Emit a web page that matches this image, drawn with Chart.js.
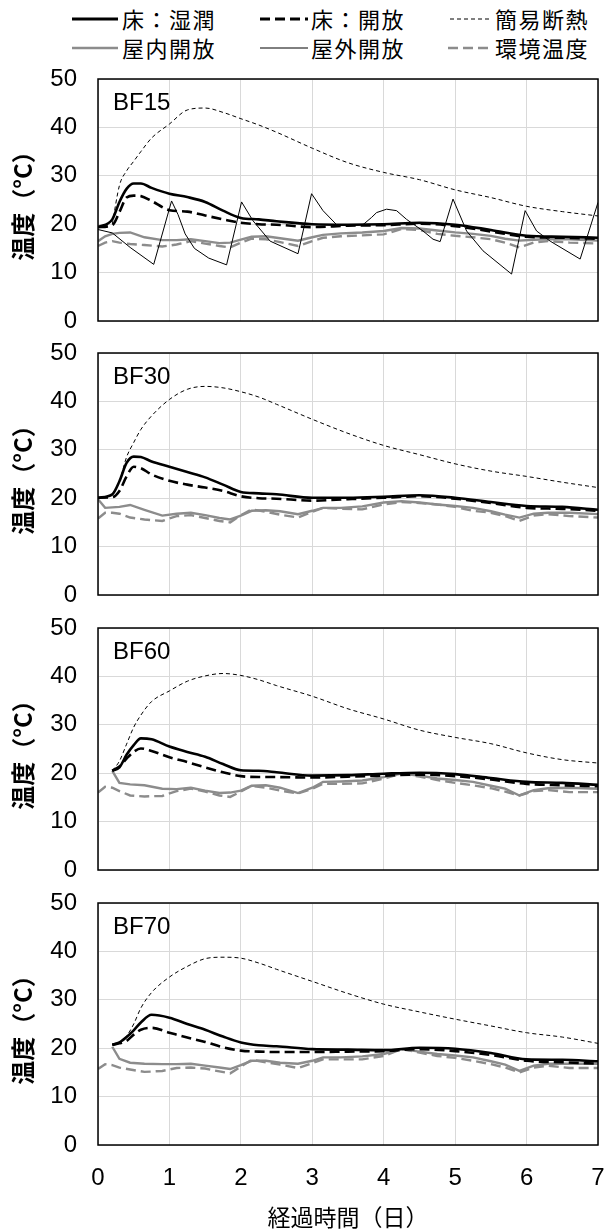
<!DOCTYPE html>
<html>
<head>
<meta charset="utf-8">
<script src="https://cdn.jsdelivr.net/npm/chart.js@4.4.1/dist/chart.umd.min.js"></script>
<style>
  body { margin: 0; background: #fff; width: 606px; height: 1230px; position: relative; overflow: hidden; }
  canvas { position: absolute; left: 0; }
  .lg { position: absolute; font-family: "Noto Sans CJK JP", sans-serif; font-size: 22px; letter-spacing: 1.5px; line-height: 28px; color: #000; white-space: nowrap; }
</style>
</head>
<body>
<svg width="606" height="64" style="position:absolute;left:0;top:0">
  <line x1="72" y1="19" x2="118" y2="19" stroke="#000" stroke-width="2.8"/>
  <line x1="260" y1="19" x2="308" y2="19" stroke="#000" stroke-width="2.8" stroke-dasharray="10 5"/>
  <line x1="450" y1="19" x2="491" y2="19" stroke="#000" stroke-width="1" stroke-dasharray="4 3"/>
  <line x1="72" y1="48" x2="118" y2="48" stroke="#8c8c8c" stroke-width="2.4"/>
  <line x1="260" y1="48" x2="308" y2="48" stroke="#000" stroke-width="1"/>
  <line x1="448" y1="48" x2="491" y2="48" stroke="#8c8c8c" stroke-width="2.4" stroke-dasharray="10 5"/>
</svg>
<div class="lg" style="left:122px;top:4px">床：湿潤</div>
<div class="lg" style="left:311px;top:4px">床：開放</div>
<div class="lg" style="left:495px;top:4px">簡易断熱</div>
<div class="lg" style="left:122px;top:33px">屋内開放</div>
<div class="lg" style="left:311px;top:33px">屋外開放</div>
<div class="lg" style="left:495px;top:33px">環境温度</div>

<canvas id="c1"></canvas>
<canvas id="c2"></canvas>
<canvas id="c3"></canvas>
<canvas id="c4"></canvas>

<script>
// days for the floor curves and the insulated box
const floorDays = [0, 0.2, 0.3, 0.4, 0.5, 0.6, 0.75, 1.0, 1.25, 1.5, 1.75, 2.0, 2.25, 2.5, 3.0, 3.5, 4.0, 4.5, 5.0, 5.5, 6.0, 6.5, 7.0];
// days for indoor / ambient air
const airDays = [0, 0.1, 0.2, 0.3, 0.45, 0.65, 0.9, 1.1, 1.3, 1.5, 1.7, 1.85, 2.0, 2.15, 2.35, 2.55, 2.8, 3.0, 3.15, 3.4, 3.7, 4.0, 4.25, 4.5, 4.75, 5.0, 5.25, 5.5, 5.7, 5.9, 6.1, 6.3, 6.6, 7.0];
// days for the outdoor pile (BF15 only)
const outDays = [0, 0.2, 0.45, 0.78, 1.03, 1.12, 1.22, 1.35, 1.55, 1.8, 2.01, 2.17, 2.41, 2.8, 2.99, 3.15, 3.34, 3.53, 3.71, 3.83, 3.9, 4.04, 4.18, 4.32, 4.55, 4.69, 4.79, 4.97, 5.16, 5.39, 5.79, 5.98, 6.14, 6.33, 6.75, 7.0];

const bf15Wet = [19.4, 21.0, 24.6, 27.3, 28.4, 28.4, 27.5, 26.3, 25.6, 24.6, 22.8, 21.3, 21.0, 20.6, 20.0, 19.9, 20.0, 20.3, 19.9, 18.8, 17.6, 17.4, 17.2];
const bf15Open = [19.4, 19.8, 22.5, 25.5, 25.9, 25.8, 24.8, 22.9, 22.6, 21.8, 21.0, 20.3, 20.0, 19.9, 19.4, 19.7, 19.8, 20.1, 19.6, 18.5, 17.4, 17.2, 17.0];
const bf15Insul = [null, 20.0, 28.0, 31.0, 33.0, 35.0, 37.8, 40.7, 43.6, 44.0, 43.1, 41.8, 40.5, 39.0, 35.7, 32.7, 30.7, 29.2, 27.1, 25.5, 23.7, 22.6, 21.7];
const bf15Indoor = [16.5, 17.5, 18.0, 18.2, 18.3, 17.3, 16.7, 16.7, 16.9, 16.5, 16.1, 16.2, 16.8, 17.4, 17.5, 17.1, 16.6, 17.3, 17.8, 18.1, 18.3, 18.6, 19.2, 19.1, 18.7, 18.3, 18.0, 17.6, 17.0, 16.6, 16.8, 16.9, 16.9, 16.6];
const bf15Ambient = [15.5, 16.2, 16.5, 16.2, 15.9, 15.7, 15.4, 15.8, 16.5, 16.0, 15.5, 15.2, 16.2, 17.0, 16.9, 16.3, 15.5, 16.5, 17.2, 17.5, 17.7, 17.9, 19.0, 18.8, 18.0, 17.6, 17.3, 16.9, 16.2, 15.2, 16.2, 16.5, 16.2, 16.0];
const bf15Outdoor = [18.9, 18.2, 15.2, 11.7, 24.8, 22.0, 18.0, 15.0, 13.0, 11.6, 24.6, 20.7, 16.5, 13.9, 26.3, 22.8, 19.9, 19.7, 19.9, 21.4, 22.4, 23.1, 22.8, 21.0, 18.6, 16.9, 16.4, 25.2, 18.6, 14.5, 9.7, 22.8, 18.6, 16.5, 12.8, 24.5];

const bf30Wet = [20.1, 20.8, 23.5, 27.3, 28.6, 28.5, 27.6, 26.5, 25.4, 24.3, 22.8, 21.3, 21.0, 20.8, 20.1, 20.1, 20.3, 20.6, 20.1, 19.2, 18.4, 18.2, 17.6];
const bf30Open = [20.1, 20.2, 21.5, 24.5, 26.5, 26.2, 24.9, 23.6, 22.8, 22.2, 21.5, 20.4, 20.0, 19.9, 19.5, 19.8, 20.1, 20.4, 19.9, 19.0, 18.0, 17.8, 17.4];
const bf30Insul = [null, 20.8, 23.5, 28.5, 31.5, 34.2, 37.0, 40.4, 42.5, 43.1, 42.8, 42.0, 40.9, 39.4, 36.3, 33.4, 30.9, 29.0, 27.1, 25.6, 24.5, 23.3, 22.2];
const bf30Indoor = [19.8, 18.0, 18.1, 18.2, 18.6, 17.6, 16.4, 16.8, 17.0, 16.5, 15.9, 15.6, 16.4, 17.4, 17.5, 17.3, 16.7, 17.4, 18.0, 18.0, 18.3, 19.1, 19.4, 19.1, 18.7, 18.4, 18.0, 17.3, 16.6, 16.0, 16.8, 17.0, 17.0, 16.7];
const bf30Ambient = [15.8, 17.0, 17.0, 16.8, 16.0, 15.6, 15.3, 16.3, 16.5, 15.9, 15.3, 15.0, 16.5, 17.7, 17.2, 16.6, 16.0, 17.2, 18.0, 17.8, 17.7, 18.7, 19.2, 19.0, 18.7, 18.2, 17.4, 17.0, 16.3, 15.3, 16.4, 16.7, 16.3, 16.0];

const bf60Wet = [null, 20.5, 21.2, 23.8, 25.8, 27.2, 27.0, 25.5, 24.4, 23.4, 21.9, 20.6, 20.5, 20.2, 19.5, 19.6, 19.9, 20.1, 19.8, 19.0, 18.2, 18.0, 17.6];
const bf60Open = [null, 20.5, 21.4, 23.0, 24.4, 25.1, 24.6, 23.3, 22.3, 21.2, 20.2, 19.4, 19.2, 19.2, 19.1, 19.3, 19.5, 19.7, 19.4, 18.7, 17.8, 17.5, 17.3];
const bf60Insul = [null, 20.5, 22.5, 26.0, 29.5, 32.0, 34.8, 37.0, 39.0, 40.1, 40.6, 40.2, 39.3, 38.1, 35.9, 33.3, 31.2, 28.9, 27.4, 26.1, 24.2, 22.8, 22.1];
const bf60Indoor = [null, null, 20.5, 18.0, 17.7, 17.5, 16.8, 16.7, 17.0, 16.4, 15.9, 16.0, 16.4, 17.4, 17.5, 17.0, 15.9, 17.0, 18.2, 18.3, 18.5, 19.2, 19.9, 19.5, 18.9, 18.6, 18.2, 17.4, 16.8, 15.4, 16.5, 16.9, 17.0, 16.8];
const bf60Ambient = [16.0, 17.2, 17.0, 16.3, 15.4, 15.2, 15.3, 16.3, 16.8, 16.2, 15.4, 15.1, 16.2, 17.4, 17.0, 16.4, 15.8, 16.8, 17.8, 17.8, 17.9, 18.9, 19.9, 19.3, 18.6, 18.0, 17.5, 16.9, 16.2, 15.4, 16.3, 16.5, 16.1, 16.1];

const bf70Wet = [null, 20.7, 21.2, 22.3, 23.7, 25.3, 26.9, 26.3, 25.0, 23.8, 22.4, 21.2, 20.6, 20.4, 19.8, 19.7, 19.6, 20.1, 19.9, 19.0, 17.7, 17.6, 17.3];
const bf70Open = [null, 20.7, 21.0, 21.5, 22.8, 23.8, 24.2, 23.2, 22.2, 21.3, 20.2, 19.5, 19.3, 19.2, 19.2, 19.3, 19.4, 19.8, 19.4, 18.6, 17.4, 17.1, 16.8];
const bf70Insul = [null, 20.7, 21.2, 22.5, 25.0, 28.3, 31.5, 34.7, 36.9, 38.5, 38.8, 38.6, 37.6, 36.3, 33.8, 31.3, 29.1, 27.5, 26.0, 24.6, 23.2, 22.3, 21.0];
const bf70Indoor = [null, null, 20.3, 17.8, 17.0, 16.8, 16.7, 16.7, 16.8, 16.4, 16.0, 15.7, 16.5, 17.4, 17.4, 17.0, 16.8, 17.4, 18.1, 18.1, 18.3, 18.8, 19.8, 19.3, 18.8, 18.5, 18.1, 17.3, 16.6, 15.3, 16.4, 16.8, 16.8, 16.8];
const bf70Ambient = [15.7, 16.7, 16.5, 16.0, 15.6, 15.1, 15.3, 15.9, 16.0, 15.8, 15.2, 14.8, 16.2, 17.6, 17.1, 16.6, 15.9, 16.9, 17.7, 17.7, 17.7, 18.4, 19.8, 19.1, 18.4, 18.0, 17.4, 16.7, 16.0, 15.0, 16.0, 16.4, 15.9, 15.9];

const GRAY = "#8c8c8c";
const PAD = 20;
const panelTops = [79, 353, 628, 903];
const panelH = 242;

const pts = (days, vals) => days.map((d, i) => ({ x: d, y: vals[i] }));

// box around the plot + the BFxx tag
const framePlugin = {
  id: "frame",
  afterDatasetsDraw(chart, args, opts) {
    const { ctx, chartArea: a } = chart;
    ctx.save();
    ctx.strokeStyle = "#000";
    ctx.lineWidth = 1.5;
    ctx.strokeRect(a.left, a.top, a.right - a.left, a.bottom - a.top);
    ctx.fillStyle = "#000";
    ctx.font = '24px "Liberation Sans"';
    ctx.textBaseline = "middle";
    ctx.fillText(opts.label, a.left + 15, a.top + 24);
    ctx.restore();
  },
};

function makePanel(idx, label, wet, open, insul, indoor, ambient, outdoor) {
  const isLast = idx === 3;
  const canvas = document.getElementById("c" + (idx + 1));
  const top = panelTops[idx] - PAD;
  const h = isLast ? 1230 - top : panelH + 2 * PAD;
  canvas.width = 606;
  canvas.height = h;
  canvas.style.top = top + "px";
  canvas.style.width = "606px";
  canvas.style.height = h + "px";

  const datasets = [
    { label: "床：湿潤", data: pts(floorDays, wet), borderColor: "#000", borderWidth: 2.6, cubicInterpolationMode: "monotone" },
    { label: "床：開放", data: pts(floorDays, open), borderColor: "#000", borderWidth: 2.6, borderDash: [10, 5], cubicInterpolationMode: "monotone" },
    { label: "簡易断熱", data: pts(floorDays, insul), borderColor: "#000", borderWidth: 1, borderDash: [4, 3], cubicInterpolationMode: "monotone" },
  ];
  if (outdoor) {
    datasets.push({ label: "屋外開放", data: pts(outDays, outdoor), borderColor: "#000", borderWidth: 1 });
  }
  datasets.push({ label: "屋内開放", data: pts(airDays, indoor), borderColor: GRAY, borderWidth: 2.4 });
  datasets.push({ label: "環境温度", data: pts(airDays, ambient), borderColor: GRAY, borderWidth: 2.4, borderDash: [10, 5] });

  const tickFont = { family: "Liberation Sans", size: 24 };

  new Chart(canvas.getContext("2d"), {
    type: "line",
    data: { datasets: datasets },
    plugins: [framePlugin],
    options: {
      responsive: false,
      animation: false,
      events: [],
      layout: { padding: { top: PAD, bottom: isLast ? 0 : PAD, left: 0, right: 8 } },
      elements: { point: { radius: 0 }, line: { fill: false } },
      plugins: {
        legend: { display: false },
        tooltip: { enabled: false },
        frame: { label: label },
      },
      scales: {
        x: {
          type: "linear",
          min: 0,
          max: 7,
          // invisible tick marks give the gap to the labels (ticks.padding would also pad the chart sides)
          ticks: { stepSize: 1, display: isLast, padding: 0, color: "#000", font: tickFont },
          grid: { color: "#d9d9d9", lineWidth: 1, drawTicks: true, tickLength: 19, tickColor: "rgba(0,0,0,0)" },
          border: { display: false },
          title: {
            display: isLast,
            text: "経過時間（日）",
            color: "#000",
            font: { family: "Noto Sans CJK JP", size: 23, lineHeight: 1 },
            padding: { top: 0, bottom: 1 },
          },
          afterFit(s) { s.height = isLast ? 85 : 0; },
        },
        y: {
          min: 0,
          max: 50,
          ticks: { stepSize: 10, padding: 0, color: "#000", font: tickFont },
          grid: { color: "#d9d9d9", lineWidth: 1, drawTicks: true, tickLength: 21, tickColor: "rgba(0,0,0,0)" },
          border: { display: false },
          title: {
            display: true,
            text: "温度（°C）",
            color: "#000",
            font: { family: "Noto Sans CJK JP", size: 24, weight: "bold", lineHeight: 1.2 },
            padding: { top: 8, bottom: 0 },
          },
          afterFit(s) { s.width = 98; },
        },
      },
    },
  });
}

makePanel(0, "BF15", bf15Wet, bf15Open, bf15Insul, bf15Indoor, bf15Ambient, bf15Outdoor);
makePanel(1, "BF30", bf30Wet, bf30Open, bf30Insul, bf30Indoor, bf30Ambient, null);
makePanel(2, "BF60", bf60Wet, bf60Open, bf60Insul, bf60Indoor, bf60Ambient, null);
makePanel(3, "BF70", bf70Wet, bf70Open, bf70Insul, bf70Indoor, bf70Ambient, null);
</script>
</body>
</html>
